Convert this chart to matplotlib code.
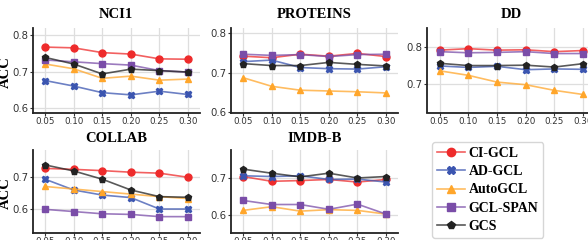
import matplotlib
matplotlib.use('Agg')
from matplotlib import pyplot as plt
from matplotlib.lines import Line2D

W, H = 588, 240

x = [0.05, 0.10, 0.15, 0.20, 0.25, 0.30]
xticklabels = ['0.05', '0.10', '0.15', '0.20', '0.25', '0.30']

methods = ['CI-GCL', 'AD-GCL', 'AutoGCL', 'GCL-SPAN', 'GCS']
colors = ['#ee2b2b', '#3b55b0', '#ffa62b', '#7a4da8', '#222222']
markers = ['o', 'X', '^', 's', 'p']

nci1 = [
    [0.767, 0.765, 0.752, 0.748, 0.735, 0.734],
    [0.676, 0.661, 0.643, 0.637, 0.647, 0.638],
    [0.721, 0.708, 0.682, 0.688, 0.677, 0.680],
    [0.732, 0.727, 0.722, 0.718, 0.703, 0.699],
    [0.739, 0.721, 0.694, 0.707, 0.703, 0.699],
]
proteins = [
    [0.742, 0.738, 0.747, 0.742, 0.749, 0.741],
    [0.728, 0.732, 0.713, 0.710, 0.709, 0.715],
    [0.687, 0.665, 0.655, 0.653, 0.651, 0.648],
    [0.747, 0.744, 0.746, 0.741, 0.746, 0.747],
    [0.723, 0.718, 0.718, 0.726, 0.721, 0.717],
]
dd = [
    [0.791, 0.795, 0.791, 0.792, 0.787, 0.790],
    [0.749, 0.745, 0.748, 0.739, 0.741, 0.740],
    [0.736, 0.724, 0.706, 0.699, 0.684, 0.673],
    [0.787, 0.784, 0.785, 0.787, 0.782, 0.782],
    [0.756, 0.750, 0.750, 0.751, 0.746, 0.755],
]
collab = [
    [0.728, 0.725, 0.721, 0.716, 0.713, 0.700],
    [0.694, 0.660, 0.644, 0.636, 0.600, 0.600],
    [0.671, 0.663, 0.655, 0.647, 0.639, 0.633],
    [0.599, 0.592, 0.585, 0.583, 0.576, 0.576],
    [0.739, 0.720, 0.694, 0.660, 0.639, 0.637],
]
imdb = [
    [0.704, 0.691, 0.693, 0.696, 0.689, 0.696],
    [0.706, 0.704, 0.706, 0.696, 0.697, 0.689],
    [0.612, 0.622, 0.610, 0.614, 0.612, 0.602],
    [0.639, 0.628, 0.628, 0.615, 0.629, 0.602],
    [0.724, 0.713, 0.703, 0.713, 0.700, 0.704],
]

# name, data, pixel box (left, top, right, bottom), ylim, yticks
panels = [
    ('NCI1', nci1, (32.5, 28, 200, 112.5), (0.589, 0.819), [0.6, 0.7, 0.8]),
    ('PROTEINS', proteins, (230.5, 28, 398, 112.5), (0.598, 0.814), [0.6, 0.7, 0.8]),
    ('DD', dd, (427, 28, 595, 112.5), (0.625, 0.85), [0.7, 0.8]),
    ('COLLAB', collab, (32.5, 150, 200, 232.5), (0.526, 0.786), [0.6, 0.7]),
    ('IMDB-B', imdb, (230.5, 150, 398, 232.5), (0.552, 0.776), [0.6, 0.7]),
]

serif = ['Liberation Serif', 'DejaVu Serif']

fig = plt.figure(figsize=(W / 100, H / 100), dpi=100)

for name, data, box, ylim, yticks in panels:
    l, t, r, b = box
    ax = fig.add_axes([l / W, 1 - b / H, (r - l) / W, (b - t) / H])
    ax.grid(True, color='#dedede', lw=0.9)
    ax.set_axisbelow(True)
    for i in range(len(methods)):
        c = matplotlib.colors.to_rgba(colors[i])
        ax.plot(x, data[i], color=(c[0], c[1], c[2], 0.75), lw=1.2,
                marker=markers[i], ms=5, mfc=colors[i], mec=colors[i], zorder=3)
    ax.set_xlim(0.028, 0.321)
    ax.set_ylim(*ylim)
    ax.set_xticks(x)
    ax.set_xticklabels(xticklabels)
    ax.set_yticks(yticks)
    ax.tick_params(colors='#333333', length=2, width=0.8, pad=1)
    ax.tick_params(axis='x', labelsize=6.3)
    ax.tick_params(axis='y', labelsize=7.3)
    for s in ['top', 'right']:
        ax.spines[s].set_visible(False)
    for s in ['left', 'bottom']:
        ax.spines[s].set_color('#222222')
        ax.spines[s].set_linewidth(1.3)
    ty = t - 14 if t < 100 else t - 11
    fig.text((l + r) / 2 / W, 1 - ty / H, name, ha='center', va='center',
             family=serif, weight='bold', fontsize=10.5)

fig.text(5 / W, 1 - 72 / H, 'ACC', rotation=90, ha='center', va='center',
         family=serif, weight='bold', fontsize=10.5)
fig.text(5 / W, 1 - 193 / H, 'ACC', rotation=90, ha='center', va='center',
         family=serif, weight='bold', fontsize=10.5)

handles = []
for i in range(len(methods)):
    c = matplotlib.colors.to_rgba(colors[i])
    handles.append(Line2D([], [], color=(c[0], c[1], c[2], 0.75), lw=1.2,
                          marker=markers[i], ms=6, mfc=colors[i], mec=colors[i]))
fig.legend(handles, methods, loc='upper left', bbox_to_anchor=(432 / W, 1 - 142 / H),
           borderaxespad=0, prop={'family': serif, 'weight': 'bold', 'size': 10},
           handlelength=2.0, handletextpad=0.3, labelspacing=0.38, borderpad=0.35,
           frameon=True, edgecolor='#cccccc', fancybox=True)

fig.savefig('out.png', dpi=100)
